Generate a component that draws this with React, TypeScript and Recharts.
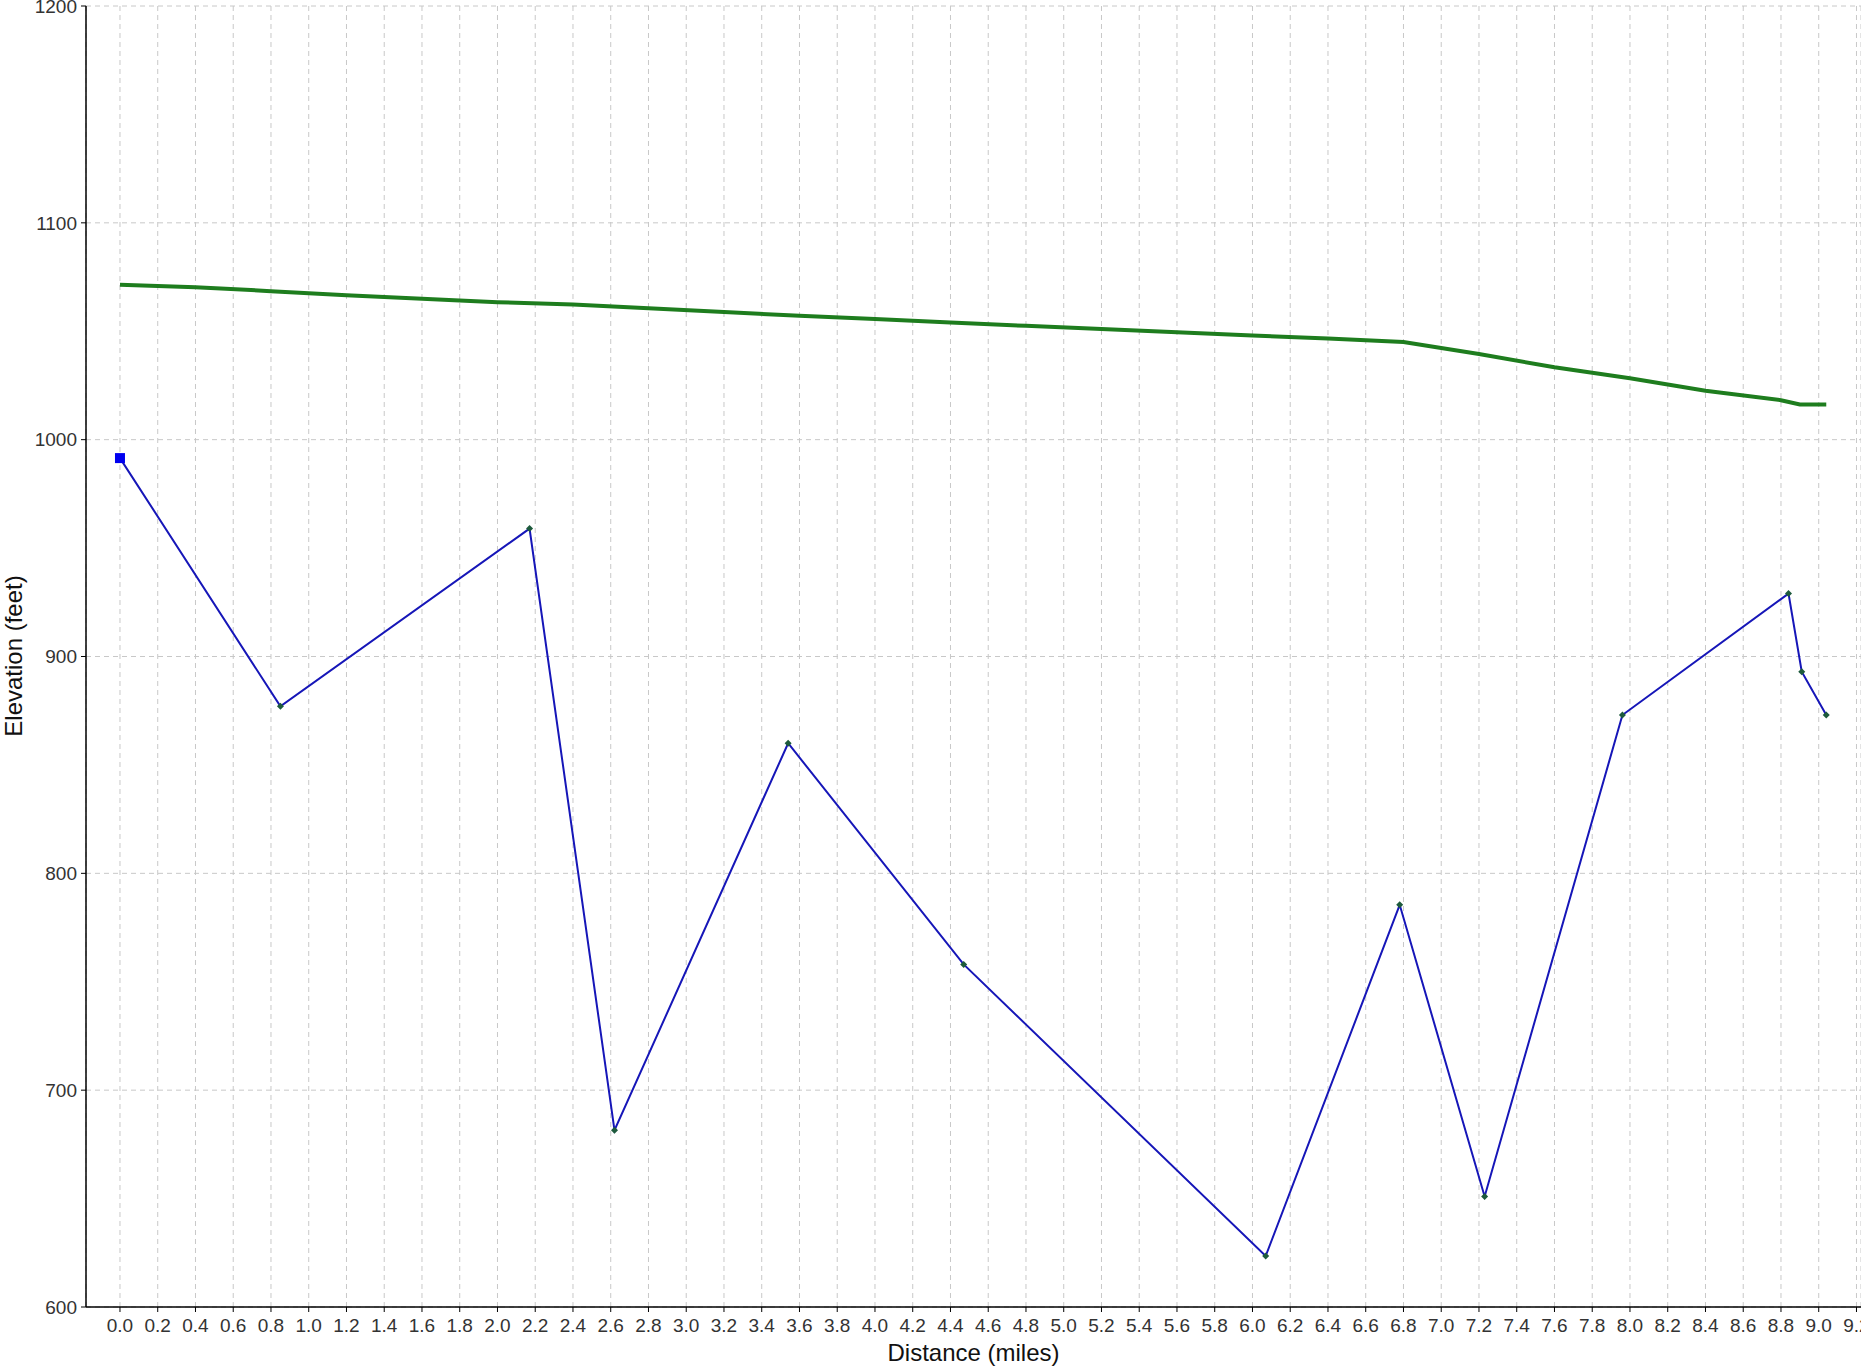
import { LineChart, Line, XAxis, YAxis, CartesianGrid } from 'recharts';

// route profile (blue) – distance in miles, elevation in feet
const routeMiles = [0.0, 0.85, 2.17, 2.62, 3.54, 4.47, 6.07, 6.78, 7.23, 7.96, 8.84, 8.91, 9.04];
const routeElev = [991.5, 877, 959, 681.5, 860, 758, 623.5, 785.5, 651, 873, 929, 893, 873];

// smooth reference profile (green)
const trendMiles = [0.0, 0.4, 0.8, 1.2, 1.6, 2.0, 2.4, 2.8, 3.2, 3.6, 4.0, 4.4, 4.8, 5.2, 5.6, 6.0, 6.4, 6.8, 7.2, 7.6, 8.0, 8.4, 8.8, 8.9, 9.04];
const trendElev = [1071.5, 1070.3, 1068.5, 1066.6, 1065.0, 1063.4, 1062.3, 1060.6, 1058.9, 1057.1, 1055.6, 1054.0, 1052.5, 1051.0, 1049.5, 1048.0, 1046.6, 1045.0, 1039.5, 1033.4, 1028.3, 1022.6, 1018.2, 1016.2, 1016.2];

const xTicks = Array.from({ length: 47 }, (_, i) => Math.round(i * 2) / 10);
const yTicks = [600, 700, 800, 900, 1000, 1100, 1200];

const routeData = routeMiles.map((mi, i) => ({ mi, elev: routeElev[i] }));
const trendData = trendMiles.map((mi, i) => ({ mi, elev: trendElev[i] }));

const tickStyle = { fill: '#333', fontSize: 19, fontFamily: 'Liberation Sans, Arial, sans-serif' };

function RouteDot(props: any) {
  const { cx, cy, index } = props;
  if (cx == null || cy == null) return null;
  if (index === 0) {
    return <rect key={index} x={cx - 5} y={cy - 5} width={10} height={10} fill="#0000f0" />;
  }
  return (
    <polygon
      key={index}
      points={`${cx},${cy - 3.5} ${cx + 3.5},${cy} ${cx},${cy + 3.5} ${cx - 3.5},${cy}`}
      fill="#1d5a3c"
    />
  );
}

export default function App() {
  return (
    <div style={{ position: 'absolute', left: 0, top: 0, width: 1861, height: 1369, background: '#fff', fontFamily: 'Liberation Sans, Arial, sans-serif' }}>
      <LineChart width={1861} height={1369} margin={{ top: 6, right: 0, bottom: 0, left: 0 }}>
        <CartesianGrid stroke="#c8c8c8" strokeDasharray="5 4" />
        <XAxis
          type="number"
          dataKey="mi"
          domain={[-0.18, 9.224]}
          ticks={xTicks}
          allowDataOverflow
          interval={0}
          tickFormatter={(v: number) => v.toFixed(1)}
          tick={tickStyle}
          tickSize={5}
          tickMargin={7}
          height={62}
          axisLine={{ stroke: '#000', strokeWidth: 1.5 }}
          tickLine={{ stroke: '#000' }}
        />
        <YAxis
          type="number"
          dataKey="elev"
          domain={[600, 1200]}
          ticks={yTicks}
          interval={0}
          tick={tickStyle}
          tickSize={5}
          tickMargin={4}
          width={86}
          axisLine={{ stroke: '#000', strokeWidth: 1.5 }}
          tickLine={{ stroke: '#000' }}
        />
        <Line
          data={trendData}
          dataKey="elev"
          type="linear"
          stroke="#1e7d1e"
          strokeWidth={4}
          dot={false}
          activeDot={false}
          isAnimationActive={false}
        />
        <Line
          data={routeData}
          dataKey="elev"
          type="linear"
          stroke="#1616b8"
          strokeWidth={2}
          dot={<RouteDot />}
          activeDot={false}
          isAnimationActive={false}
        />
      </LineChart>
      <div style={{ position: 'absolute', left: 0, width: 1861, paddingLeft: 86, boxSizing: 'border-box', top: 1339, textAlign: 'center', fontSize: 24, color: '#111' }}>
        Distance (miles)
      </div>
      <div
        style={{
          position: 'absolute',
          left: 14,
          top: 656,
          transform: 'translate(-50%, -50%) rotate(-90deg)',
          whiteSpace: 'nowrap',
          fontSize: 24,
          color: '#111',
        }}
      >
        Elevation (feet)
      </div>
    </div>
  );
}
